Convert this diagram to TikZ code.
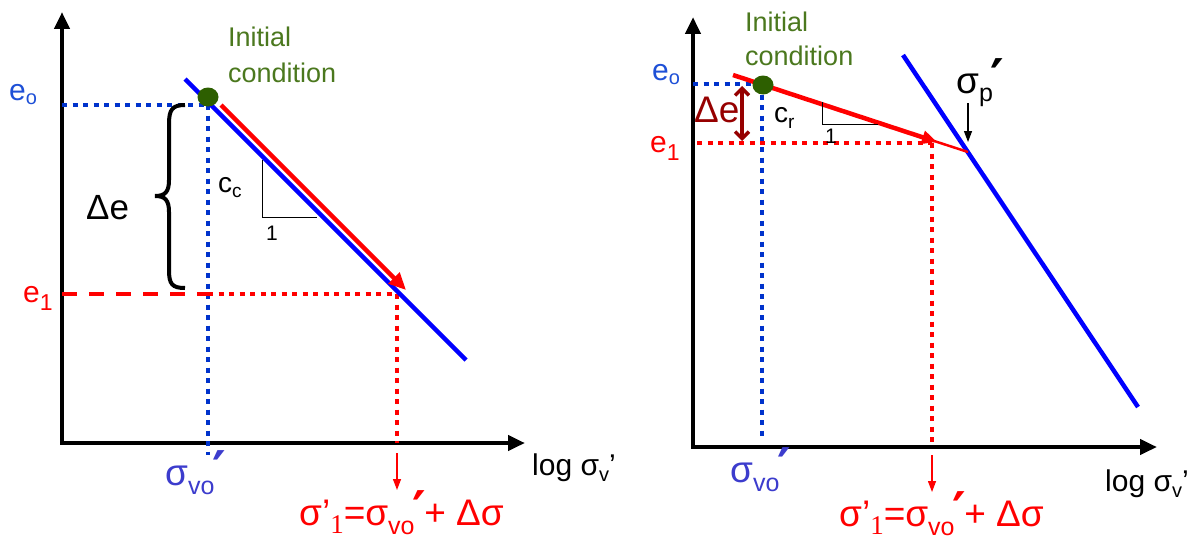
\documentclass[tikz,border=0pt]{standalone}
\usepackage{fontspec}
\setmainfont{Liberation Sans}
\newfontfamily\serifgr{Liberation Serif}
\newfontfamily\dvs{DejaVu Sans}
\usetikzlibrary{arrows.meta,shapes.geometric}
\definecolor{lblue}{RGB}{0,0,255}
\definecolor{dblue}{RGB}{0,51,204}
\definecolor{eblue}{RGB}{30,80,215}
\definecolor{sblue}{RGB}{60,60,205}
\definecolor{lred}{RGB}{255,0,0}
\definecolor{dred}{RGB}{150,0,0}
\definecolor{tgreen}{RGB}{75,120,30}
\definecolor{dgreen}{RGB}{45,95,0}
\newcommand{\fsz}[1]{\fontsize{#1}{#1}\selectfont}
\newcommand{\prm}{\raisebox{-3pt}[0pt][0pt]{\dvs\bfseries\fsz{52}′}}
\newcommand{\svo}{{\fsz{37}σ}\raisebox{-9pt}{\fsz{25}vo}\kern-2pt\prm}
\newcommand{\sone}{{\fsz{37}σ’}\raisebox{-8pt}{\fsz{27}\serifgr 1}{\fsz{37}=σ}\raisebox{-9pt}{\fsz{25}vo}\kern-2pt\prm\kern-2pt{\fsz{37}+ Δσ}}
\newcommand{\logs}{{\fsz{30}log σ}\raisebox{-6pt}{\fsz{20}v}{\fsz{30}’}}
\begin{document}
\begin{tikzpicture}[x=1pt,y=-1pt,
  axis/.style={line width=4.5pt,line join=miter,{Triangle[length=17pt,width=15pt]}-{Triangle[length=17pt,width=15pt]}},
  bline/.style={line width=4.5pt,draw=lblue},
  rline/.style={line width=4.5pt,draw=lred},
  bdot/.style={line width=4.6pt,draw=dblue,dash pattern=on 5pt off 5.5pt},
  rdot/.style={line width=4.6pt,draw=lred,dash pattern=on 5pt off 5.5pt},
  rdash/.style={line width=4.2pt,draw=lred,dash pattern=on 15pt off 12pt},
  slope/.style={line width=1pt,draw=black},
  thinarrow/.style={line width=1.3pt,-{Triangle[length=11pt,width=8pt]}},
  gdot/.style={ellipse,fill=dgreen,minimum width=21pt,minimum height=19pt,inner sep=0pt},
  lbl/.style={inner sep=0pt,anchor=base west},
  gtext/.style={lbl,text=tgreen,font=\fsz{27}},
]
\useasboundingbox (0,0) rectangle (1198,543);
\fill[white] (0,0) rectangle (1198,543);

% ===== Left panel =====
\coordinate (LYt) at (62,12);
\coordinate (LO) at (62,443);
\coordinate (LXt) at (525,443);
\coordinate (Lb1) at (185,79);
\coordinate (Lb2) at (466,360);
\coordinate (Lr1) at (221,105);
\coordinate (Lr2) at (406,290);
\coordinate (Leo) at (62,105);
\coordinate (Lp0) at (208,105);
\coordinate (Lp0b) at (208,455);
\coordinate (Le1) at (62,294);
\coordinate (Lm1) at (208,294);
\coordinate (Lp1) at (397,294);
\coordinate (Lp1b) at (397,443);
\coordinate (La1) at (397,453);
\coordinate (La2) at (397,490);
\coordinate (Lt1) at (262,160);
\coordinate (Lt2) at (262,217);
\coordinate (Lt3) at (317,217);

\draw[axis] (LYt) -- (LO) -- (LXt);
\draw[bdot] (Leo) -- (Lp0);
\draw[bdot] (Lp0) -- (Lp0b);
\draw[rdash] (Le1) -- (Lm1);
\draw[rdot] (Lm1) -- (Lp1);
\draw[rdot] (Lp1) -- (Lp1b);
\draw[bline] (Lb1) -- (Lb2);
\draw[rline,-{Triangle[length=17pt,width=15pt]}] (Lr1) -- (Lr2);
\draw[slope] (Lt1) -- (Lt2) -- (Lt3);
\draw[thinarrow,lred] (La1) -- (La2);
\node[gdot] (dotL) at (208,97) {};
% brace
\draw[line width=4pt] (185,105) .. controls (172,105) and (169,110) .. (169,124)
  -- (169,180) .. controls (169,192) and (165,196) .. (155,196)
  .. controls (165,196) and (169,200) .. (169,212)
  -- (169,270) .. controls (169,284) and (172,288) .. (185,288);

\node[lbl,text=eblue] (Leolab) at (9,100) {\fsz{30}e\raisebox{-4pt}{\fsz{20}o}};
\node[lbl,text=lred] (Le1lab) at (23,302) {\fsz{30}e\raisebox{-8pt}{\fsz{23}1}};
\node[lbl] (Ldelab) at (86,219) {\fsz{35}Δe};
\node[lbl] (Lcc) at (218,192) {\fsz{28}c\raisebox{-5pt}{\fsz{19}c}};
\node[lbl] (Lone) at (266,240) {\fsz{21}1};
\node[gtext] (Linit) at (228,47) {Initial};
\node[gtext] (Lcond) at (228,82) {condition};
\node[lbl,text=sblue] (Lsvo) at (165,485) {\svo};
\node[lbl,text=lred] (Lsone) at (299,525) {\sone};
\node[lbl] (Llog) at (532,475) {\logs};

% ===== Right panel =====
\coordinate (RYt) at (693,17);
\coordinate (RO) at (693,447);
\coordinate (RXt) at (1157,447);
\coordinate (Rb1) at (903,55);
\coordinate (Rb2) at (1138,407);
\coordinate (Rr1) at (733,75);
\coordinate (Rr2) at (937,142);
\coordinate (Rr3) at (928,139);
\coordinate (Rr4) at (968,152);
\coordinate (Reo) at (693,84);
\coordinate (Rp0) at (762,84);
\coordinate (Rp0b) at (762,440);
\coordinate (Re1) at (697,143);
\coordinate (Rp1) at (932,143);
\coordinate (Rp1b) at (932,447);
\coordinate (Ra1) at (932,455);
\coordinate (Ra2) at (932,492);
\coordinate (Rt1) at (822,102);
\coordinate (Rt2) at (822,124);
\coordinate (Rt3) at (878,124);
\coordinate (Rd1) at (742,86);
\coordinate (Rd2) at (742,141);
\coordinate (Rs1) at (968,103);
\coordinate (Rs2) at (968,142);

\draw[axis] (RYt) -- (RO) -- (RXt);
\draw[bdot] (Reo) -- (Rp0);
\draw[bdot] (Rp0) -- (Rp0b);
\draw[rdot] (Re1) -- (Rp1);
\draw[rdot] (Rp1) -- (Rp1b);
\draw[bline] (Rb1) -- (Rb2);
\draw[line width=2.5pt,lred] (Rr3) -- (Rr4);
\draw[rline,-{Triangle[length=15pt,width=13pt]}] (Rr1) -- (Rr2);
\draw[slope] (Rt1) -- (Rt2) -- (Rt3);
\draw[thinarrow,lred] (Ra1) -- (Ra2);
\draw[thinarrow,black] (Rs1) -- (Rs2);
\draw[line width=3.5pt,dred,{Straight Barb[length=7pt,width=14pt]}-{Straight Barb[length=7pt,width=14pt]}] (Rd1) -- (Rd2);
\node[gdot] (dotR) at (763,85) {};

\node[lbl,text=eblue] (Reolab) at (652,80) {\fsz{30}e\raisebox{-4pt}{\fsz{20}o}};
\node[lbl,text=lred] (Re1lab) at (650,152) {\fsz{30}e\raisebox{-8pt}{\fsz{23}1}};
\node[lbl,text=dred] (Rdelab) at (694,122) {\fsz{37}Δe};
\node[lbl] (Rcr) at (774,122) {\fsz{28}c\raisebox{-6pt}{\fsz{19}r}};
\node[lbl] (Rone) at (825,143) {\fsz{21}1};
\node[gtext] (Rinit) at (745,32) {Initial};
\node[gtext] (Rcond) at (745,65) {condition};
\node[lbl] (Rsp) at (956,93) {{\fsz{37}σ}\raisebox{-8pt}{\fsz{25}p}\kern-2pt\prm};
\node[lbl,text=sblue] (Rsvo) at (730,482) {\svo};
\node[lbl,text=lred] (Rsone) at (839,526) {\sone};
\node[lbl] (Rlog) at (1105,491) {\logs};
\end{tikzpicture}
\end{document}
